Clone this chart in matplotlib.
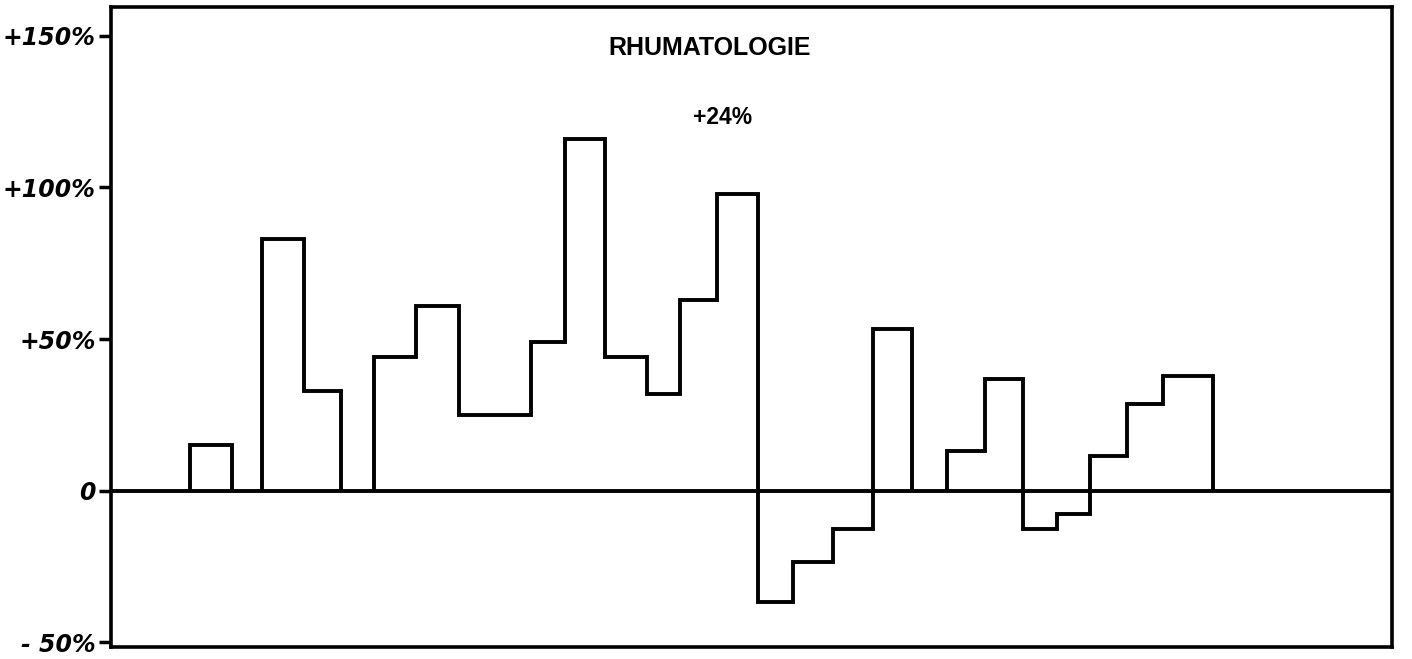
import matplotlib
matplotlib.use("Agg")
import matplotlib.pyplot as plt

# x positions expressed as % of the horizontal axis width; values in % change
g1_edges = [6.17, 9.45]
g1_values = [15]
g2_edges = [11.79, 15.07, 17.95]
g2_values = [83, 33]
g3_edges = [20.53, 23.81, 27.17, 32.79, 35.44, 38.56, 41.84, 44.42, 47.31,
            50.51, 53.24, 56.36, 59.48, 62.53]
g3_values = [44, 61, 25, 49, 116, 44, 32, 63, 98, -36.5, -23.5, -12.5, 53.5]
g4_edges = [65.26, 68.23, 71.19, 73.85, 76.42, 79.31, 82.12, 86.03]
g4_values = [13, 37, -12.5, -7.5, 11.5, 28.5, 38]

ytick_values = [150, 100, 50, 0, -50]
ytick_labels = ["+150%", "+100%", "+50%", "0", "- 50%"]
title = "RHUMATOLOGIE"
subtitle = "+24%"

fig = plt.figure(figsize=(14.12, 6.59), dpi=100)
ax = fig.add_axes([111/1412, 1 - 647/659, (1392-111)/1412, (647-7)/659])

lw = 2.8
for edges, vals in [(g1_edges, g1_values), (g2_edges, g2_values),
                    (g3_edges, g3_values), (g4_edges, g4_values)]:
    ax.stairs(vals, edges, baseline=0, fill=False, color="black",
              linewidth=lw, joinstyle="miter")

ax.axhline(0, color="black", linewidth=lw)

ax.set_xlim(0, 100)
ax.set_ylim(-51.5, 159.5)
ax.set_xticks([])
ax.set_yticks(ytick_values)
ax.set_yticklabels(ytick_labels, fontsize=17, fontstyle="italic", fontweight="bold")
ax.tick_params(axis="y", direction="out", length=9, width=2.5, pad=2)
for s in ax.spines.values():
    s.set_linewidth(2.6)

ax.text(0.4676, 0.936, title, transform=ax.transAxes, ha="center", va="center",
        fontsize=18, fontweight="bold", family=["Liberation Sans", "DejaVu Sans"])
ax.text(0.4778, 0.828, subtitle, transform=ax.transAxes, ha="center", va="center",
        fontsize=16.5, fontweight="bold", family=["Liberation Sans", "DejaVu Sans"])

fig.savefig("out.png", dpi=100)
